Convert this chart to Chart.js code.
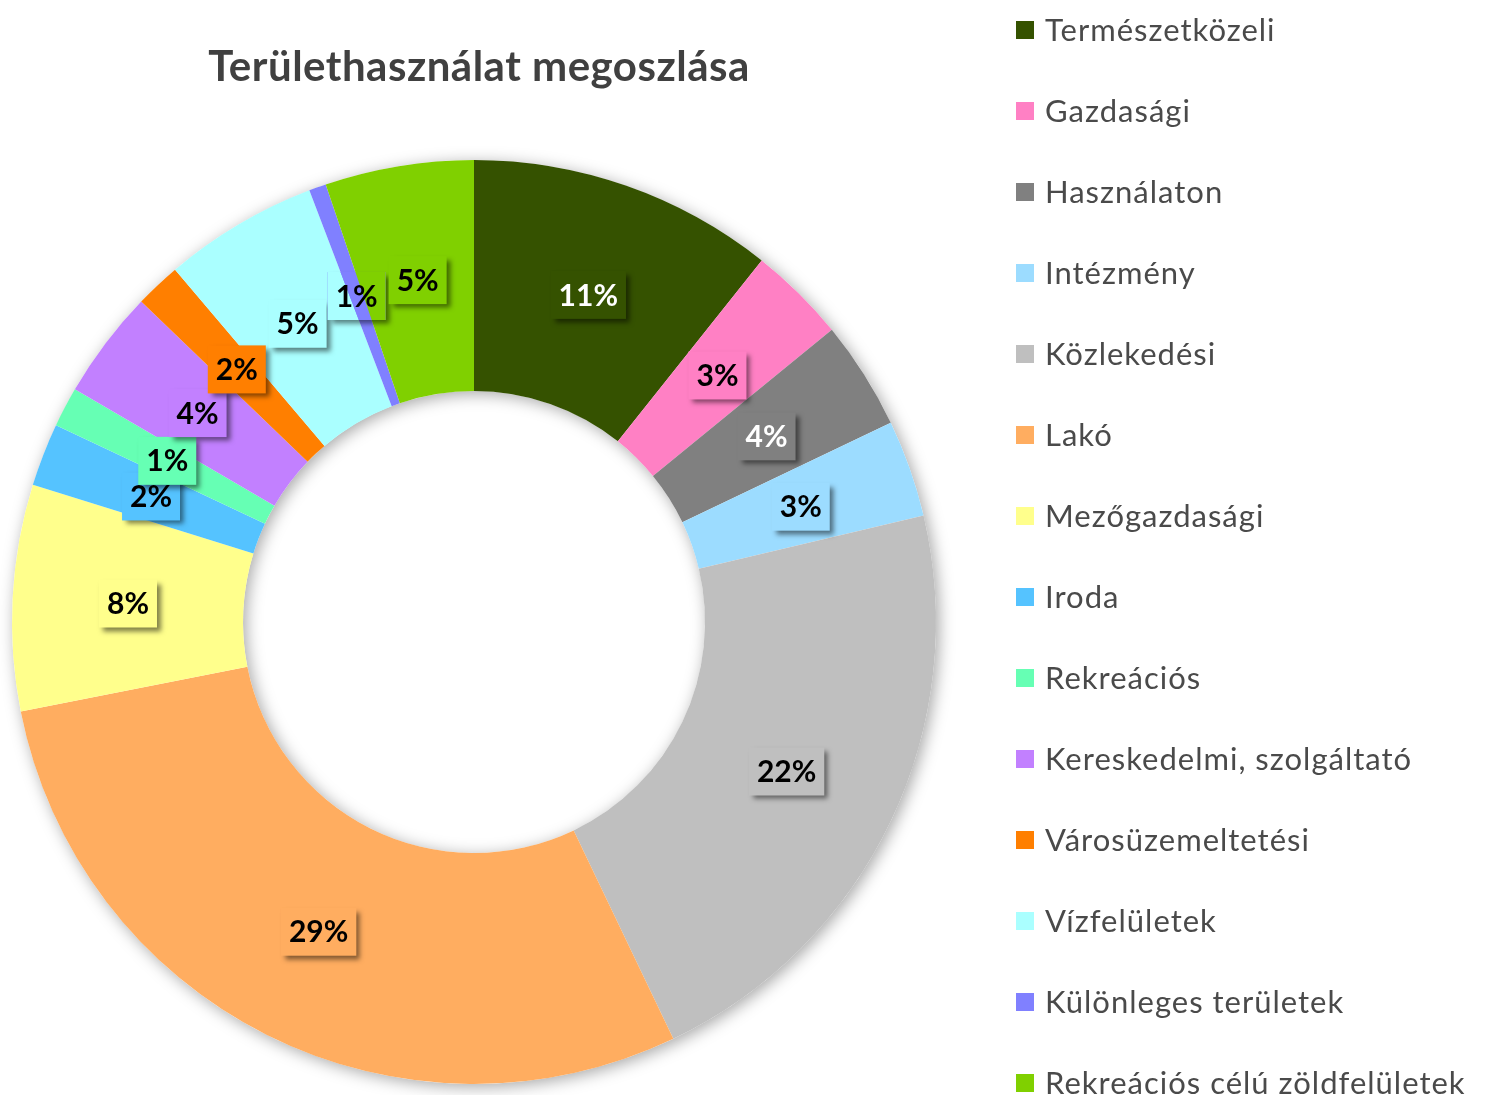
<!DOCTYPE html>
<html>
<head>
<meta charset="utf-8">
<script src="https://cdn.jsdelivr.net/npm/chart.js@4.4.0/dist/chart.umd.min.js"></script>
<style>
  html, body { margin: 0; padding: 0; background: #fff; }
  #terulet { display: block; }
</style>
</head>
<body>
<canvas id="terulet" width="1488" height="1095"></canvas>
<script>
const chartTitle = 'Területhasználat megoszlása';
const categories = ['Természetközeli', 'Gazdasági', 'Használaton', 'Intézmény', 'Közlekedési', 'Lakó',
  'Mezőgazdasági', 'Iroda', 'Rekreációs', 'Kereskedelmi, szolgáltató', 'Városüzemeltetési',
  'Vízfelületek', 'Különleges területek', 'Rekreációs célú zöldfelületek'];
// share of the area, %
const shares = [10.7, 3.4, 3.8, 3.4, 21.6, 29.0, 7.9, 2.2, 1.4, 3.8, 1.6, 5.4, 0.6, 5.2];
const sliceColors = ['#355200', '#ff80c4', '#808080', '#9cdcff', '#bfbfbf', '#ffad60',
  '#ffff8c', '#55c3ff', '#66ffb4', '#c280ff', '#ff7f00', '#aaffff', '#8080ff', '#80d000'];
const labelTextColors = ['#fff', '#000', '#fff', '#000', '#000', '#000',
  '#000', '#000', '#000', '#000', '#000', '#000', '#000', '#000'];
// the thin slice keeps a see-through label box
const labelBoxFilled = [true, true, true, true, true, true, true, true, true, true, true, true, false, true];

// soft shadow under the whole ring
const ringShadow = {
  id: 'ringShadow',
  beforeDatasetsDraw(chart) {
    const arc = chart.getDatasetMeta(0).data[0];
    if (!arc) return;
    const {ctx} = chart;
    ctx.save();
    ctx.shadowColor = 'rgba(0,0,0,0.35)';
    ctx.shadowBlur = 16;
    ctx.shadowOffsetX = 3;
    ctx.shadowOffsetY = 3;
    ctx.beginPath();
    ctx.arc(arc.x, arc.y, arc.outerRadius, 0, Math.PI * 2);
    ctx.arc(arc.x, arc.y, arc.innerRadius, 0, Math.PI * 2, true);
    ctx.fillStyle = '#fff';
    ctx.fill();
    ctx.restore();
  }
};

// percent boxes on the slices
const sliceLabels = {
  id: 'sliceLabels',
  afterDatasetsDraw(chart) {
    const {ctx} = chart;
    const meta = chart.getDatasetMeta(0);
    const total = shares.reduce((a, b) => a + b, 0);
    ctx.save();
    ctx.font = 'bold 30px Lato';
    ctx.textAlign = 'center';
    ctx.textBaseline = 'middle';
    meta.data.forEach((arc, i) => {
      const pos = arc.tooltipPosition();
      const txt = Math.round(shares[i] / total * 100) + '%';
      const w = ctx.measureText(txt).width + 16;
      const h = 48;
      const bx = pos.x - w / 2, by = pos.y - h / 2;
      ctx.save();
      ctx.shadowColor = 'rgba(0,0,0,0.5)';
      ctx.shadowBlur = 5;
      ctx.shadowOffsetX = 4;
      ctx.shadowOffsetY = 4;
      ctx.fillStyle = sliceColors[i];
      ctx.fillRect(bx, by, w, h);
      ctx.restore();
      if (!labelBoxFilled[i]) {
        // repaint the slices inside the box so it looks clear
        ctx.save();
        ctx.beginPath();
        ctx.rect(bx, by, w, h);
        ctx.clip();
        meta.data.forEach(a => a.draw(ctx));
        ctx.restore();
      }
      ctx.fillStyle = labelTextColors[i];
      ctx.fillText(txt, pos.x, pos.y + 1);
    });
    ctx.restore();
  }
};

// title and legend drawn at fixed spots
const titleAndLegend = {
  id: 'titleAndLegend',
  afterDraw(chart) {
    const {ctx} = chart;
    ctx.save();
    ctx.font = 'bold 42px Lato';
    ctx.letterSpacing = '0.5px';
    ctx.fillStyle = '#404040';
    ctx.textAlign = 'center';
    ctx.textBaseline = 'middle';
    ctx.fillText(chartTitle, 479, 67);

    ctx.font = '31px Lato';
    ctx.letterSpacing = '1px';
    ctx.textAlign = 'left';
    categories.forEach((name, i) => {
      const y = 30 + i * 81;
      ctx.fillStyle = sliceColors[i];
      ctx.fillRect(1016, y - 9, 18, 18);
      ctx.fillStyle = '#4a4a4a';
      ctx.fillText(name, 1045, y + 1);
    });
    ctx.restore();
  }
};

new Chart(document.getElementById('terulet'), {
  type: 'doughnut',
  data: {
    labels: categories,
    datasets: [{
      data: shares,
      backgroundColor: sliceColors,
      borderWidth: 0,
      hoverOffset: 0
    }]
  },
  options: {
    responsive: false,
    animation: false,
    cutout: '50%',
    layout: { padding: { left: 12, top: 160, right: 552, bottom: 11 } },
    plugins: {
      legend: { display: false },
      title: { display: false },
      tooltip: { enabled: false }
    }
  },
  plugins: [ringShadow, sliceLabels, titleAndLegend]
});
</script>
</body>
</html>
